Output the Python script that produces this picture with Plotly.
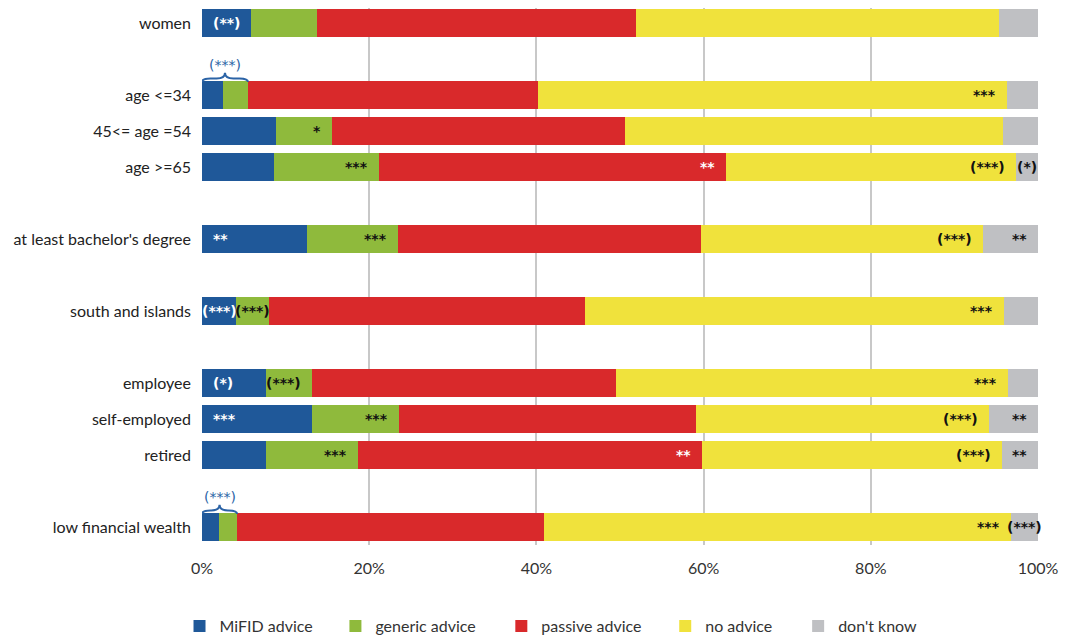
import plotly.graph_objects as go

# ---------------- data ----------------
categories = ["women", "age <=34", "45<= age =54", "age >=65",
              "at least bachelor's degree", "south and islands",
              "employee", "self-employed", "retired", "low financial wealth"]
# group sizes (rows separated by an empty row)
groups = [1, 3, 1, 1, 3, 1]

series = ["MiFID advice", "generic advice", "passive advice", "no advice", "don't know"]
mifid   = [5.9, 2.5, 8.8, 8.6, 12.5, 4.1, 7.6, 13.2, 7.7, 2.0]
generic = [7.9, 3.0, 6.8, 12.6, 11.0, 3.9, 5.6, 10.4, 11.0, 2.2]
passive = [38.1, 34.7, 35.0, 41.5, 36.2, 37.8, 36.3, 35.5, 41.1, 36.7]
noadv   = [43.4, 56.1, 45.2, 34.7, 33.7, 50.1, 46.9, 35.0, 35.9, 55.9]
dontk   = [4.7, 3.7, 4.2, 2.6, 6.6, 4.1, 3.6, 5.9, 4.3, 3.2]

x_ticks = [0, 20, 40, 60, 80, 100]
x_tick_labels = ["0%", "20%", "40%", "60%", "80%", "100%"]

# significance marks: (category index, series index, label, white text?, alignment)
marks = [
    (0, 0, "(**)", True, "L"),
    (1, 3, "***", False, "R"),
    (2, 1, "*", False, "R"),
    (3, 1, "***", False, "R"),
    (3, 2, "**", True, "R"),
    (3, 3, "(***)", False, "R"),
    (3, 4, "(*)", False, "C"),
    (4, 0, "**", True, "L"),
    (4, 1, "***", False, "R"),
    (4, 3, "(***)", False, "R"),
    (4, 4, "**", False, "R"),
    (5, 0, "(***)", True, "C"),
    (5, 1, "(***)", False, "C"),
    (5, 3, "***", False, "R"),
    (6, 0, "(*)", True, "L"),
    (6, 1, "(***)", False, "R"),
    (6, 3, "***", False, "R"),
    (7, 0, "***", True, "L"),
    (7, 1, "***", False, "R"),
    (7, 3, "(***)", False, "R"),
    (7, 4, "**", False, "R"),
    (8, 1, "***", False, "R"),
    (8, 2, "**", True, "R"),
    (8, 3, "(***)", False, "R"),
    (8, 4, "**", False, "R"),
    (9, 3, "***", False, "R"),
    (9, 4, "(***)", False, "C"),
]
# braces over MiFID + generic advice (category index, label)
braces = [(1, "(***)"), (9, "(***)")]

# ---------------- styling / layout ----------------
colors = ["#1f5899", "#8fba3c", "#d9292b", "#f0e23c", "#bfc0c3"]
brace_color = "#2b63a6"
FONT = "Lato"
MARK_FONT = "DejaVu Sans"

W, H = 1065, 631            # page body has an 8px margin
ML, MR, MT, MB = 193.5, 35, 0, 94
PW, PH = W - ML - MR, H - MT - MB

# row positions with an empty row between groups
ypos = []
pos = 0
for g in groups:
    for _ in range(g):
        ypos.append(pos)
        pos += 1
    pos += 1
last = ypos[-1]
row_px = 36.0
y_top = last + 0.5 - PH / row_px

values = [mifid, generic, passive, noadv, dontk]

# legend text start positions in figure pixels
legend_text_px = [211, 367, 533, 697, 830]
legend_names = ["legend", "legend2", "legend3", "legend4", "legend5"]

fig = go.Figure()
for name, vals, col, lg in zip(series, values, colors, legend_names):
    fig.add_trace(go.Bar(
        y=ypos, x=vals, name=name, orientation="h",
        marker=dict(color=col, line=dict(width=0)),
        width=0.76, hoverinfo="skip", legend=lg, showlegend=True,
    ))

def seg_bounds(ci, si):
    start = sum(values[k][ci] for k in range(si))
    return start, start + values[si][ci]

annotations = []
for ci, si, lab, white, al in marks:
    a, b = seg_bounds(ci, si)
    if al == "L":
        x, xa, xs = a, "left", 9
    elif al == "R":
        x, xa, xs = b, "right", -9
    else:
        x, xa, xs = (a + b) / 2, "center", 0
    annotations.append(dict(
        x=x, y=ypos[ci], xref="x", yref="y", text="<b>" + lab + "</b>",
        showarrow=False, xanchor=xa, yanchor="middle", xshift=xs,
        font=dict(family=MARK_FONT, size=14,
                  color="white" if white else "#111111"),
    ))

shapes = []
for ci, lab in braces:
    x0 = 0
    x1 = mifid[ci] + generic[ci]
    xm = (x0 + x1) / 2
    y = ypos[ci]
    yb, yl, yt = y - 0.36, y - 0.46, y - 0.62
    r = 1.0
    path = (f"M {x0},{yb} Q {x0},{yl} {x0 + r},{yl} L {xm - r},{yl} "
            f"Q {xm},{yl} {xm},{yt} Q {xm},{yl} {xm + r},{yl} "
            f"L {x1 - r},{yl} Q {x1},{yl} {x1},{yb}")
    shapes.append(dict(type="path", path=path, xref="x", yref="y",
                       line=dict(color=brace_color, width=2)))
    annotations.append(dict(
        x=xm, y=y - 0.84, xref="x", yref="y", text=lab, showarrow=False,
        xanchor="center", yanchor="middle",
        font=dict(family=MARK_FONT, size=14, color=brace_color),
    ))

legend_y = (PH - (626 - 8 - MT)) / PH
layout_legends = {}
for lg, tx in zip(legend_names, legend_text_px):
    layout_legends[lg] = dict(
        orientation="h", x=(tx - 40 - ML) / PW, xanchor="left",
        y=legend_y, yanchor="middle", visible=True,
        font=dict(family=FONT, size=16, color="#333333"),
        itemwidth=30, bgcolor="rgba(0,0,0,0)",
    )

fig.update_layout(
    width=W, height=H, showlegend=True,
    margin=dict(l=ML, r=MR, t=MT, b=MB, autoexpand=False),
    paper_bgcolor="white", plot_bgcolor="white",
    barmode="stack", bargap=0,
    font=dict(family=FONT, size=16, color="#222222"),
    xaxis=dict(range=[0, 100], tickvals=x_ticks, ticktext=x_tick_labels,
               showgrid=True, gridcolor="#c8c8c8", gridwidth=1.5,
               zeroline=False, showline=False, ticks="",
               tickfont=dict(family=FONT, size=16, color="#333333"),
               ticklabelstandoff=12),
    yaxis=dict(range=[last + 0.5, y_top], tickvals=ypos, ticktext=categories,
               showgrid=False, zeroline=False, showline=False, ticks="",
               tickfont=dict(family=FONT, size=16, color="#222222"),
               ticklabelstandoff=10),
    shapes=shapes,
    annotations=annotations,
    **layout_legends,
)

fig.write_html("out.html")
